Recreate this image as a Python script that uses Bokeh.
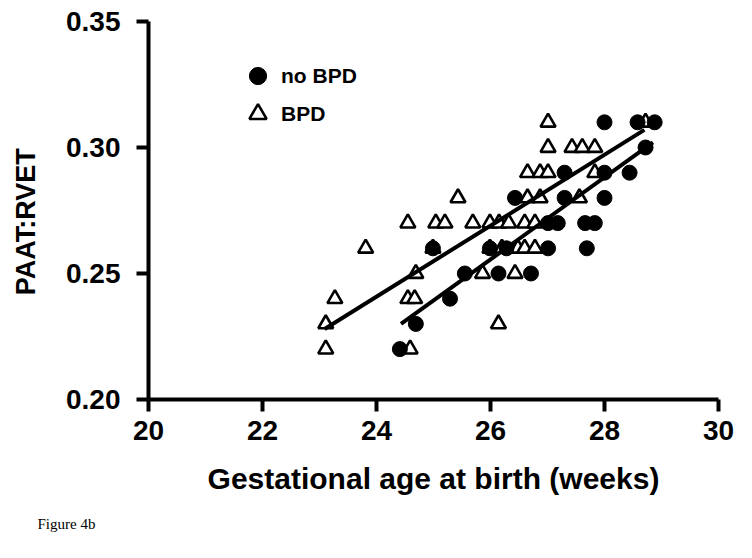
import numpy as np
from bokeh.plotting import figure
from bokeh.models import Range1d, FixedTicker, PrintfTickFormatter, Legend, LegendItem, Title
from bokeh.embed import file_html
from bokeh.resources import INLINE

# ---- data ----
x_ticks = [20, 22, 24, 26, 28, 30]
y_ticks = [0.20, 0.25, 0.30, 0.35]

nobpd_ga = [24.41, 24.69, 25.29, 25.55, 24.99, 25.99, 26.14, 26.28, 26.71, 27.01,
            26.43, 27.01, 27.18, 27.30, 27.30, 27.66, 27.83, 27.69, 28.00, 28.00,
            28.44, 28.00, 28.58, 28.88, 28.72]
nobpd_ratio = [0.22, 0.23, 0.24, 0.25, 0.26, 0.26, 0.25, 0.26, 0.25, 0.26,
               0.28, 0.27, 0.27, 0.29, 0.28, 0.27, 0.27, 0.26, 0.28, 0.29,
               0.29, 0.31, 0.31, 0.31, 0.30]

bpd_ga = [23.11, 23.11, 23.27, 23.81, 24.59, 24.55, 24.67, 24.69, 24.55,
          25.04, 25.20, 24.99, 25.43, 25.69, 25.99, 26.15, 26.32, 26.60, 26.78,
          25.86, 26.43, 26.14, 25.99, 26.20, 26.48, 26.60, 26.78,
          26.65, 26.87, 27.56, 26.65, 26.87, 27.01, 27.83,
          27.01, 27.43, 27.61, 27.83, 27.01, 28.72]
bpd_ratio = [0.22, 0.23, 0.24, 0.26, 0.22, 0.24, 0.24, 0.25, 0.27,
             0.27, 0.27, 0.26, 0.28, 0.27, 0.27, 0.27, 0.27, 0.27, 0.27,
             0.25, 0.25, 0.23, 0.26, 0.26, 0.26, 0.26, 0.26,
             0.28, 0.28, 0.28, 0.29, 0.29, 0.29, 0.29,
             0.30, 0.30, 0.30, 0.30, 0.31, 0.31]

# regression lines as drawn in the reference (end points)
nobpd_fit_ga = [24.43, 28.85]
nobpd_fit_ratio = [0.230, 0.302]
bpd_fit_ga = [23.09, 28.70]
bpd_fit_ratio = [0.228, 0.307]

p = figure(width=736, height=542, output_backend="svg", toolbar_location=None,
           x_range=Range1d(20, 30), y_range=Range1d(0.20, 0.35),
           min_border_left=148, min_border_right=18, min_border_top=21,
           min_border_bottom=143)
p.outline_line_color = None
p.background_fill_color = "white"
p.border_fill_color = "white"
p.xgrid.visible = False
p.ygrid.visible = False

tri = p.scatter(bpd_ga, bpd_ratio, marker="triangle", size=15, fill_color="white",
                line_color="black", line_width=2.6)
cir = p.scatter(nobpd_ga, nobpd_ratio, marker="circle", size=15, fill_color="black",
                line_color="black", line_width=1)
p.line(nobpd_fit_ga, nobpd_fit_ratio, line_color="black", line_width=4)
p.line(bpd_fit_ga, bpd_fit_ratio, line_color="black", line_width=4)

FONT = "Liberation Sans"
for ax in (p.xaxis[0], p.yaxis[0]):
    ax.axis_line_width = 4
    ax.axis_line_color = "black"
    ax.major_tick_line_width = 4
    ax.major_tick_line_color = "black"
    ax.major_tick_out = 12
    ax.major_tick_in = 0
    ax.minor_tick_line_color = None
    ax.major_label_text_font = FONT
    ax.major_label_text_font_style = "bold"
    ax.major_label_text_font_size = "28px"
    ax.major_label_text_color = "black"
    ax.axis_label_text_font = FONT
    ax.axis_label_text_font_style = "bold"
    ax.axis_label_text_color = "black"

p.xaxis.major_label_standoff = 9
p.yaxis.major_label_standoff = 16
p.xaxis.ticker = FixedTicker(ticks=x_ticks)
p.yaxis.ticker = FixedTicker(ticks=y_ticks)
p.yaxis.formatter = PrintfTickFormatter(format="%.2f")
p.xaxis.axis_label = "Gestational age at birth (weeks)"
p.xaxis.axis_label_text_font_size = "30px"
p.xaxis.axis_label_standoff = 19
# trailing no-break spaces shift the visible title slightly downward, as in the reference
p.yaxis.axis_label = "PAAT:RVET" + "\u00a0" * 3
p.yaxis.axis_label_text_font_size = "27px"
p.yaxis.axis_label_standoff = 22

leg1 = Legend(items=[LegendItem(label="no BPD", renderers=[cir])], location=(88, 302))
leg2 = Legend(items=[LegendItem(label="BPD", renderers=[tri])], location=(88, 264))
for lg in (leg1, leg2):
    lg.glyph_width = 43
    lg.glyph_height = 43
    lg.label_standoff = 2
    lg.padding = 0
    lg.margin = 0
    lg.spacing = 0
    lg.border_line_color = None
    lg.background_fill_alpha = 0
    lg.label_text_font = FONT
    lg.label_text_font_style = "bold"
    lg.label_text_font_size = "21px"
    lg.label_text_color = "black"
    p.add_layout(lg, "center")

# caption: a leading empty line pushes the text to the bottom edge of the figure
cap = Title(text="\nFigure 4b", align="left", offset=-111, standoff=0,
            vertical_align="bottom",
            text_font="Liberation Serif", text_font_style="normal",
            text_font_size="15px", text_color="black")
p.add_layout(cap, "below")

open("out.html", "w").write(file_html(p, INLINE))
